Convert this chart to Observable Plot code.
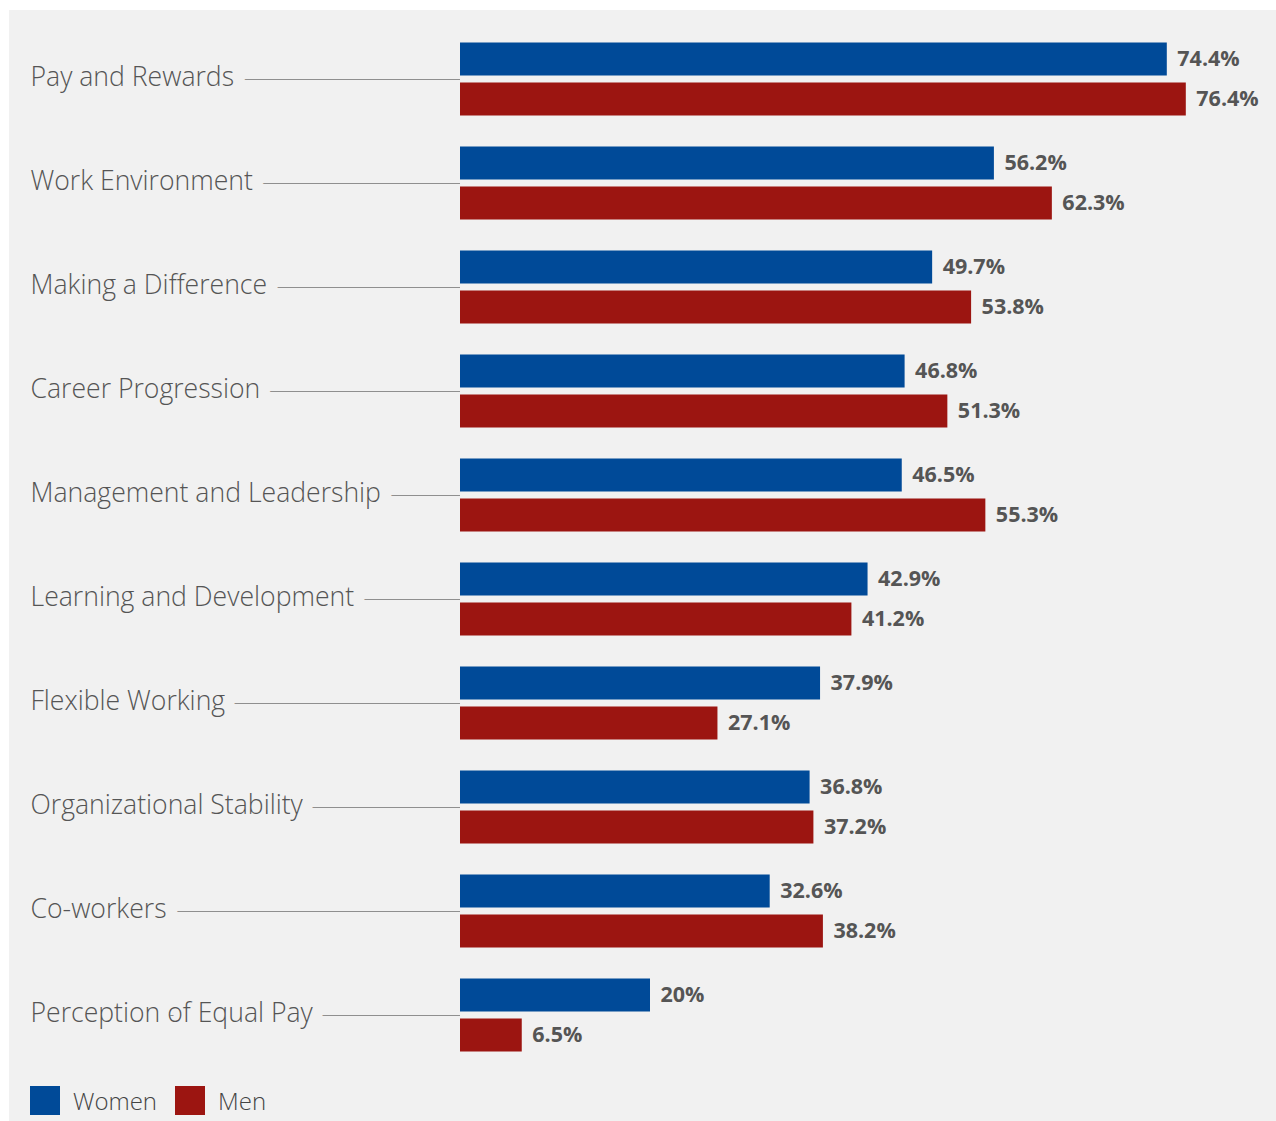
<!DOCTYPE html>
<html>
<head>
<meta charset="utf-8">
<script src="https://cdn.jsdelivr.net/npm/d3@7"></script>
<script src="https://cdn.jsdelivr.net/npm/@observablehq/plot@0.6"></script>
<style>
  html, body { margin: 0; padding: 0; background: #ffffff; }
  #panel { position: absolute; left: 9px; top: 10px; width: 1267px; height: 1111px; background: #f1f1f1; font-family: "Open Sans", sans-serif; }
  #legend { display: flex; align-items: center; margin-left: 21px; margin-top: 8px; font-size: 24px; font-weight: 300; color: #444; }
  .sw { width: 30px; height: 29px; display: inline-block; margin-right: 13px; }
  .item { display: flex; align-items: center; margin-right: 18px; }
</style>
</head>
<body>
<div id="panel"><div id="chart"></div><div id="legend"></div></div>
<script>
const categories = ["Pay and Rewards","Work Environment","Making a Difference","Career Progression","Management and Leadership","Learning and Development","Flexible Working","Organizational Stability","Co-workers","Perception of Equal Pay"];
const women = [74.4, 56.2, 49.7, 46.8, 46.5, 42.9, 37.9, 36.8, 32.6, 20];
const men   = [76.4, 62.3, 53.8, 51.3, 55.3, 41.2, 27.1, 37.2, 38.2, 6.5];
const seriesNames = ["Women", "Men"];
const seriesColors = ["#004a98", "#9c1511"];

const rows = categories.flatMap((c, i) => [
  {category: c, series: "Women", value: women[i]},
  {category: c, series: "Men", value: men[i]}
]);
const W = rows.filter(d => d.series === "Women");
const M = rows.filter(d => d.series === "Men");

const bg = "#f1f1f1";
const grey = "#8f8f8f";

const plot = Plot.plot({
  width: 1267,
  height: 1066,
  marginTop: 16.5,
  marginBottom: 9.5,
  marginLeft: 451,
  marginRight: 56,
  style: {background: "transparent", fontFamily: "'Open Sans', sans-serif"},
  x: {domain: [0, 80], axis: null},
  y: {domain: categories, padding: 0, axis: null, label: null},
  color: {domain: seriesNames, range: seriesColors},
  marks: [
    Plot.axisY({tickSize: 420, tickFormat: () => "", label: null, stroke: grey, strokeWidth: 1.2, strokeOpacity: 1}),
    Plot.text(categories, {y: d => d, frameAnchor: "left", textAnchor: "start", dx: -430, dy: -2, text: d => d,
      fontSize: 26.6, fontWeight: 300, fill: "#555", stroke: bg, strokeWidth: 24, strokeLinejoin: "round"}),
    Plot.barX(W, {y: "category", x: "value", fill: d => d.series, insetTop: 15.5, insetBottom: 55.5}),
    Plot.barX(M, {y: "category", x: "value", fill: d => d.series, insetTop: 55.5, insetBottom: 15.5}),
    Plot.ruleX(categories, {x: 0, y: d => d, dx: -1, insetTop: 13, insetBottom: 13, stroke: grey, strokeWidth: 1.5}),
    Plot.text(W, {y: "category", x: "value", text: d => `${d.value}%`, dy: -20, dx: 10, textAnchor: "start",
      fontSize: 21.5, fontWeight: 700, fill: "#555"}),
    Plot.text(M, {y: "category", x: "value", text: d => `${d.value}%`, dy: 20, dx: 10, textAnchor: "start",
      fontSize: 21.5, fontWeight: 700, fill: "#555"})
  ]
});
document.getElementById("chart").appendChild(plot);

const legend = document.getElementById("legend");
seriesNames.forEach((s, i) => {
  const it = document.createElement("div");
  it.className = "item";
  it.innerHTML = `<span class="sw" style="background:${seriesColors[i]}"></span><span>${s}</span>`;
  legend.appendChild(it);
});
</script>
</body>
</html>
